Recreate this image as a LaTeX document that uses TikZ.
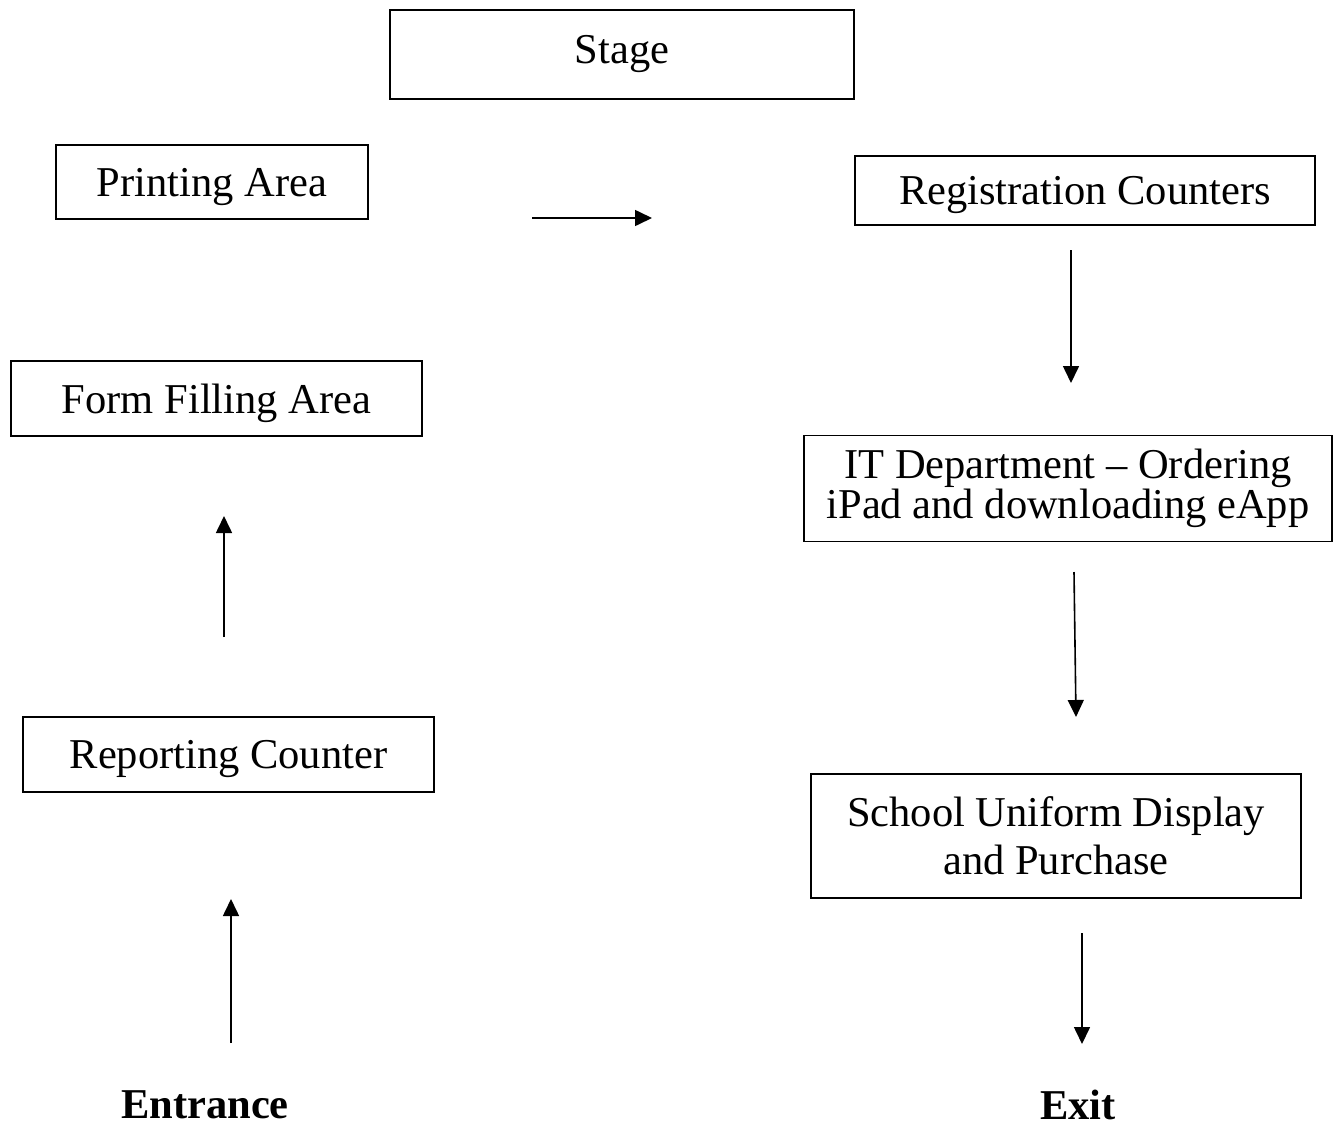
\documentclass[tikz,border=0pt]{standalone}
\usepackage{fontspec}
\setmainfont{Liberation Serif}
\usetikzlibrary{arrows.meta}
\begin{document}
\begin{tikzpicture}[x=1pt,y=-1pt,
  box/.style={draw=black,line width=1.6pt,inner sep=0pt,align=center,font=\fontsize{42.5}{40}\selectfont},
  one/.style={text depth=0pt},
  flow/.style={line width=1.6pt,-{Triangle[length=17pt,width=16pt]}},
  lbl/.style={font=\fontsize{42.5}{46}\selectfont\bfseries,inner sep=0pt}]
\useasboundingbox (0,0) rectangle (1341,1127);
\node[box,minimum width=464pt,minimum height=89pt] (stage) at (622,54.5) {Stage};
\node[box,one,minimum width=312pt,minimum height=74pt] (print) at (212,182) {Printing Area};
\node[box,one,minimum width=460pt,minimum height=69pt] (reg) at (1085,190.5) {Registration Counters};
\node[box,one,minimum width=411pt,minimum height=75pt] (form) at (216.5,398.5) {Form Filling Area};
\node[box,minimum width=528pt,minimum height=106pt] (it) at (1068,488.5) {IT Department -- Ordering\\iPad and downloading eApp};
\node[box,one,minimum width=411pt,minimum height=75pt] (rep) at (228.5,754.5) {Reporting Counter};
\node[box,minimum width=490pt,minimum height=124pt,font=\fontsize{42.5}{48}\selectfont] (uni) at (1056,836) {School Uniform Display\\and Purchase};
\node[lbl] (ent) at (205,1105) {Entrance};
\node[lbl] (exit) at (1078,1105) {Exit};
\coordinate (h1) at (532,218); \coordinate (h2) at (652,218);
\coordinate (r1) at (1071,250); \coordinate (r2) at (1071,383);
\coordinate (f1) at (224,637); \coordinate (f2) at (224,516);
\coordinate (i1) at (1074,572); \coordinate (i2) at (1076,717);
\coordinate (p1) at (231,1043); \coordinate (p2) at (231,899);
\coordinate (u1) at (1082,933); \coordinate (u2) at (1082,1044);
\draw[flow] (h1) -- (h2);
\draw[flow] (r1) -- (r2);
\draw[flow] (f1) -- (f2);
\draw[flow] (i1) -- (i2);
\draw[flow] (p1) -- (p2);
\draw[flow] (u1) -- (u2);
\end{tikzpicture}
\end{document}
